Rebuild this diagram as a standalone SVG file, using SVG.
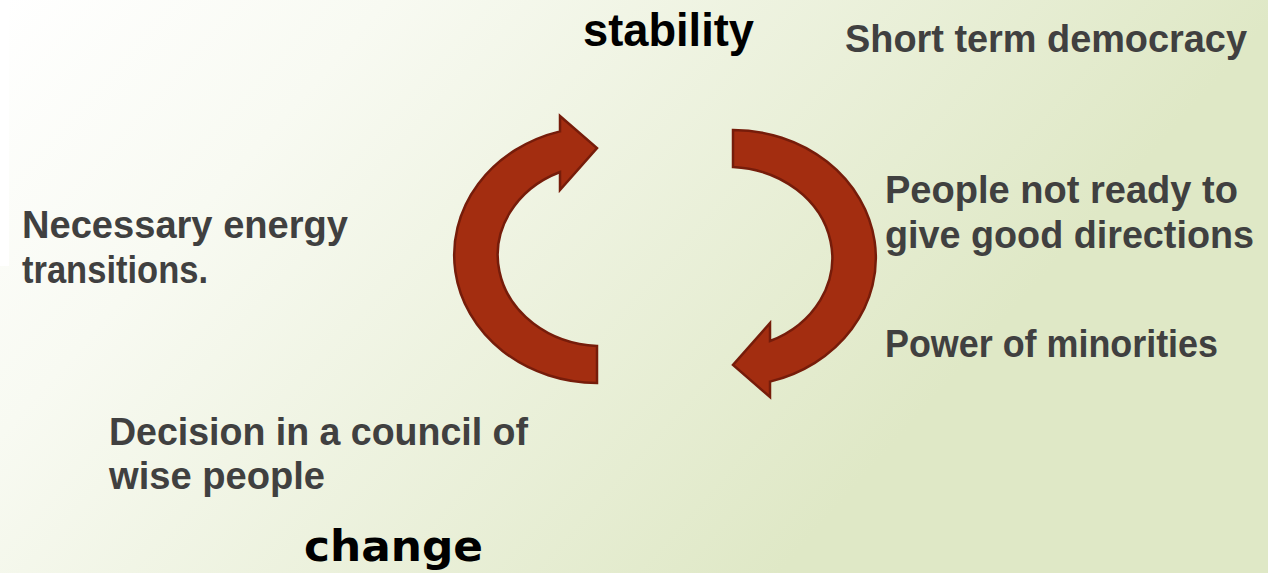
<svg xmlns="http://www.w3.org/2000/svg" width="1268" height="573" viewBox="0 0 1268 573">
  <style>
    .body { font-family: "Liberation Sans", Arial, sans-serif; font-weight: bold; font-size: 38px; fill: #404040; }
    .head { font-family: "Liberation Sans", Arial, sans-serif; font-weight: bold; fill: #000000; }
    .arrow { fill: #a32d10; stroke: #761c0a; stroke-width: 2.5; stroke-linejoin: miter; }
  </style>
  <defs>
    <linearGradient id="bg" gradientUnits="userSpaceOnUse" x1="0" y1="0" x2="720" y2="640">
      <stop offset="0" stop-color="#ffffff"/>
      <stop offset="0.3" stop-color="#f8faf2"/>
      <stop offset="1" stop-color="#dfe8c6"/>
    </linearGradient>
    <path id="circArrow" d="M 597 383 A 143 128 0 0 1 560 131.4 L 560 116 L 597 148 L 560 190 L 560 172 A 105 91 0 0 0 597 346 Z"/>
  </defs>
  <rect x="0" y="0" width="1268" height="573" fill="url(#bg)"/>
  <rect x="0" y="0" width="9" height="266" fill="#ffffff"/>

  <g id="connectors">
    <use id="arrow-left" href="#circArrow" class="arrow"/>
    <use id="arrow-right" href="#circArrow" class="arrow" transform="rotate(180 665 256.5)"/>
  </g>

  <g id="stability">
    <text class="head" x="583" y="46" font-size="47" textLength="171" lengthAdjust="spacingAndGlyphs">stability</text>
  </g>
  <g id="change">
    <text class="head" x="304" y="561" font-size="42" textLength="179" lengthAdjust="spacingAndGlyphs" style="font-family:'DejaVu Sans',sans-serif">change</text>
  </g>
  <g id="short-term">
    <text class="body" x="845" y="52" textLength="402" lengthAdjust="spacingAndGlyphs">Short term democracy</text>
  </g>
  <g id="people">
    <text class="body" x="885" y="203" textLength="353" lengthAdjust="spacingAndGlyphs">People not ready to</text>
    <text class="body" x="885" y="248" textLength="369" lengthAdjust="spacingAndGlyphs">give good directions</text>
  </g>
  <g id="power">
    <text class="body" x="885" y="357" textLength="333" lengthAdjust="spacingAndGlyphs">Power of minorities</text>
  </g>
  <g id="energy">
    <text class="body" x="22" y="238" textLength="326" lengthAdjust="spacingAndGlyphs">Necessary energy</text>
    <text class="body" x="22" y="283" textLength="186" lengthAdjust="spacingAndGlyphs">transitions.</text>
  </g>
  <g id="council">
    <text class="body" x="109" y="445" textLength="419" lengthAdjust="spacingAndGlyphs">Decision in a council of</text>
    <text class="body" x="109" y="489" textLength="216" lengthAdjust="spacingAndGlyphs">wise people</text>
  </g>
</svg>
